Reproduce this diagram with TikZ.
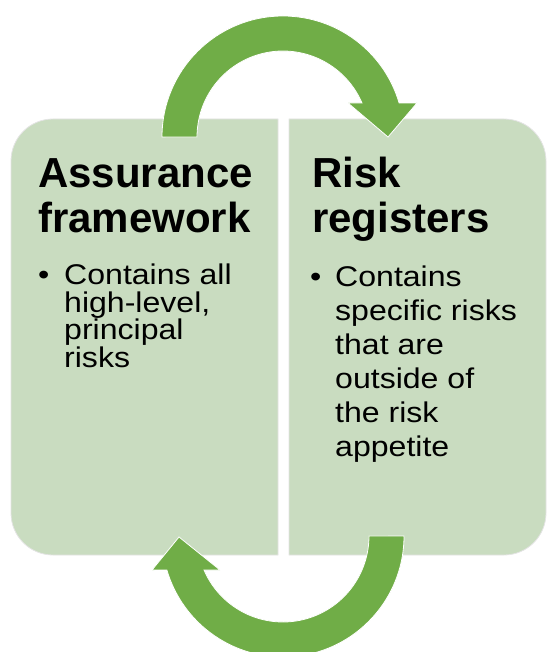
\documentclass[tikz,border=0pt]{standalone}
\usepackage{fontspec}
\setmainfont{Liberation Sans}
\newfontfamily\widebody[FakeStretch=1.125]{Liberation Sans}
\definecolor{boxfill}{RGB}{201,220,192}
\definecolor{arrowgreen}{RGB}{112,173,71}
\definecolor{edgegray}{RGB}{228,228,228}
\begin{document}
\begin{tikzpicture}[x=1pt,y=-1pt,
  panel/.style={fill=boxfill,draw=edgegray,line width=0.8pt},
  bentarrow/.style={fill=arrowgreen,draw=white,line width=0.8pt},
  headtext/.style={anchor=base west,inner sep=0pt,font=\fontsize{42}{44}\selectfont\bfseries},
  bodytext/.style={anchor=base west,inner sep=0pt,font=\widebody\fontsize{28.5}{30}\selectfont}]
\useasboundingbox (0,0) rectangle (547,652);
% panels
\path[panel] (278,119) -- (53,119) arc[start angle=270,end angle=180,radius=42]
  -- (11,513) arc[start angle=180,end angle=90,radius=42] -- (278,555) -- cycle;
\path[panel] (289,119) -- (504,119) arc[start angle=270,end angle=360,radius=42]
  -- (546,513) arc[start angle=0,end angle=90,radius=42] -- (289,555) -- cycle;
% top arrow
\path[bentarrow] (162,137) arc[start angle=180,end angle=343.7,radius=121]
  -- (417,103) -- (388,137) -- (348,103) -- (362,103)
  arc[start angle=336.7,end angle=180,radius=86] -- cycle;
% bottom arrow
\path[bentarrow] (404,536) arc[start angle=0,end angle=163.7,radius=121]
  -- (152,570) -- (179,537) -- (220,570) -- (204,570)
  arc[start angle=156.7,end angle=0,radius=86] -- cycle;
% left panel text
\node[headtext] (h1a) at (38,188) {Assurance};
\node[headtext] (h1b) at (38,232) {framework};
\node[bodytext] (b1) at (38,284.3) {•};
\foreach \t [count=\i] in {Contains all,{high-level,},principal,risks}
  \node[bodytext] (l\i) at (64,{284.3+(\i-1)*27.8}) {\t};
% right panel text
\node[headtext] (h2a) at (312,188) {Risk};
\node[headtext] (h2b) at (312,232) {registers};
\node[bodytext] (b2) at (310,286) {•};
\foreach \t [count=\i] in {Contains,specific risks,that are,outside of,the risk,appetite}
  \node[bodytext] (r\i) at (335,{286+(\i-1)*34.1}) {\t};
\end{tikzpicture}
\end{document}
